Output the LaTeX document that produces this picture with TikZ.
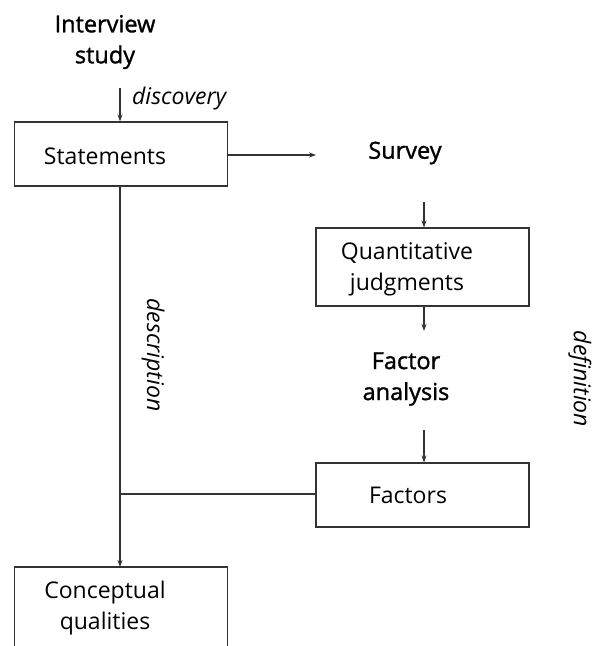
\documentclass[tikz,border=0pt]{standalone}
\usepackage{fontspec}
\setmainfont{Open Sans}
\newfontfamily\medfont[FakeBold=1.4]{Open Sans}
\usetikzlibrary{arrows.meta}
\begin{document}
\begin{tikzpicture}[x=1pt,y=-1pt,
  every node/.style={font=\fontsize{23}{31}\selectfont, inner sep=0pt},
  boxnode/.style={draw=black!80, line width=1.1pt, minimum width=213pt, minimum height=64pt},
  title/.style={font=\fontsize{23.5}{31}\selectfont\medfont, align=center},
  lbl/.style={font=\fontsize{23}{31}\selectfont\itshape},
  conn/.style={draw=black!80, line width=1.1pt},
  arr/.style={conn, -{Stealth[length=7pt,width=5pt]}}]
\clip (0,0) rectangle (592,646);
% titles
\node[title] (interview) at (105,42) {Interview\\study};
\node[title] (survey) at (405,153) {Survey};
\node[title] (factor) at (406,379) {Factor\\analysis};
% boxes
\node[boxnode] (statements) at (121,154) {};
\node (statementsT) at (105,156) {Statements};
\node[boxnode, minimum height=78pt] (quant) at (422.5,267) {};
\node[align=center] (quantT) at (407,269) {Quantitative\\judgments};
\node[boxnode] (factors) at (422.5,495) {};
\node (factorsT) at (408,495) {Factors};
\node[boxnode, minimum height=110pt] (concept) at (121,622) {};
\node[align=center] (conceptT) at (105,608) {Conceptual\\qualities};
% labels
\node[lbl, anchor=west] (discovery) at (132,99) {discovery};
\node[lbl, rotate=-90] (description) at (153,355) {description};
\node[lbl, rotate=-90] (definition) at (580,379) {definition};
% coordinates
\coordinate (c1) at (120,88);
\coordinate (c2) at (316,155);
\coordinate (c3) at (424,202);
\coordinate (c4) at (424,331);
\coordinate (c5) at (424,430);
\coordinate (j) at (120,494);
\coordinate (sb) at (120,186);
\coordinate (ct) at (120,567);
% connectors
\draw[arr] (c1) -- (c1 |- statements.north);
\draw[arr] (statements.east |- c2) -- (c2);
\draw[arr] (c3) -- (c3 |- quant.north);
\draw[arr] (c4 |- quant.south) -- (c4);
\draw[arr] (c5) -- (c5 |- factors.north);
\draw[conn] (factors.west |- j) -- (j);
\draw[arr] (sb) -- (ct);
\end{tikzpicture}
\end{document}
